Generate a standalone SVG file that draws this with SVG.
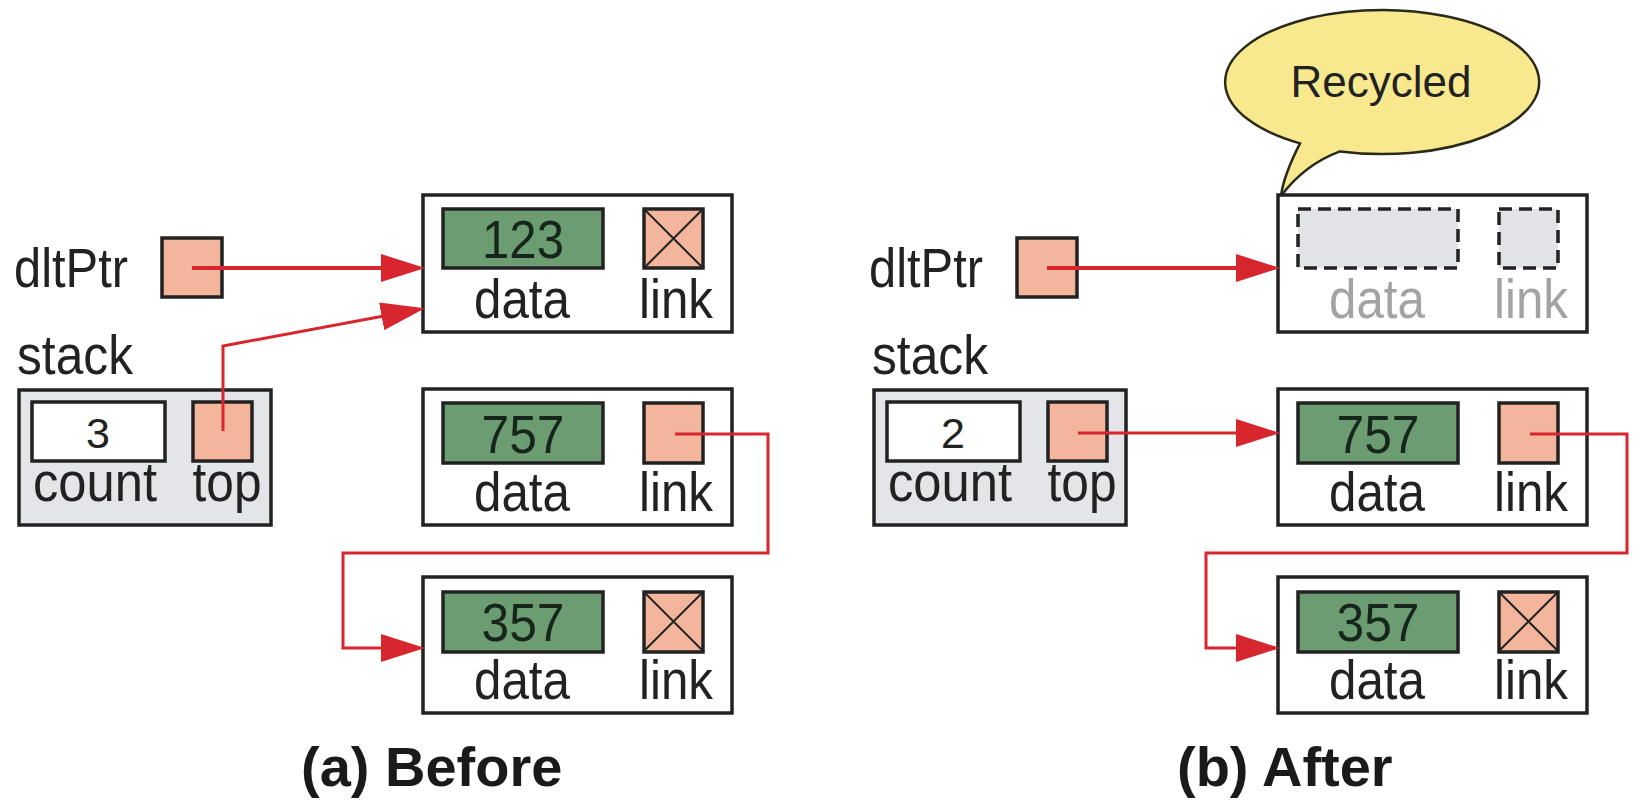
<svg xmlns="http://www.w3.org/2000/svg" width="1635" height="801" viewBox="0 0 1635 801">
  <style>
    .lbl { font-family: "Liberation Sans", Arial, sans-serif; font-size: 55px; fill: #222; }
    .num { font-family: "Liberation Sans", Arial, sans-serif; font-size: 53px; fill: #17261a; text-anchor: middle; }
    .cnt { font-family: "Liberation Sans", Arial, sans-serif; font-size: 43px; fill: #222; text-anchor: middle; }
    .mid { text-anchor: middle; }
    .ghost { fill: #a3a3a3; }
    .title { font-family: "Liberation Sans", Arial, sans-serif; font-size: 56px; font-weight: bold; fill: #1a1a1a; }
    .node { fill: #fff; stroke: #222; stroke-width: 3.5; }
    .stackbox { fill: #e4e5e9; stroke: #222; stroke-width: 3.5; }
    .data { fill: #6c9c71; stroke: #222; stroke-width: 3.5; }
    .ptr { fill: #f3b59b; stroke: #222; stroke-width: 3.5; }
    .white { fill: #fff; stroke: #222; stroke-width: 3.5; }
    .empty { fill: #e2e3e7; stroke: #222; stroke-width: 3.5; stroke-dasharray: 13 7; }
    .cross { stroke: #222; stroke-width: 2; fill: none; }
    .wire { fill: none; stroke: #d7262d; stroke-width: 3; marker-end: url(#arrow); }
    .wire.thick { stroke-width: 4; }
    .bubble { fill: #f8e98f; stroke: #2a2a1a; stroke-width: 2.5; }
  </style>
  <defs>
    <marker id="arrow" viewBox="0 0 44 28" refX="20" refY="14" markerWidth="44" markerHeight="28" markerUnits="userSpaceOnUse" orient="auto">
      <path d="M0,0 L44,14 L0,28 Z" fill="#d7262d"/>
    </marker>
    <g id="xmark">
      <line x1="0" y1="0" x2="59" y2="59" class="cross"/>
      <line x1="59" y1="0" x2="0" y2="59" class="cross"/>
    </g>
  </defs>

  <rect width="1635" height="801" fill="#fff"/>

  <!-- ===== (a) Before ===== -->
  <g id="a-dltPtr">
    <text class="lbl" x="14" y="287" textLength="114" lengthAdjust="spacingAndGlyphs">dltPtr</text>
    <rect class="ptr" x="162" y="238" width="60" height="59"/>
  </g>

  <g id="a-stack">
    <text class="lbl" x="17" y="374" textLength="116" lengthAdjust="spacingAndGlyphs">stack</text>
    <rect class="stackbox" x="19" y="390" width="252" height="135"/>
    <rect class="white" x="32" y="402" width="133" height="59"/>
    <text class="cnt" x="98" y="448">3</text>
    <rect class="ptr" x="193" y="402" width="59" height="59"/>
    <text class="lbl mid" x="95" y="501" textLength="124" lengthAdjust="spacingAndGlyphs">count</text>
    <text class="lbl mid" x="227" y="501" textLength="69" lengthAdjust="spacingAndGlyphs">top</text>
  </g>

  <g id="a-node123">
    <rect class="node" x="423" y="195" width="309" height="137"/>
    <rect class="data" x="443" y="209" width="160" height="59"/>
    <text class="num" x="523" y="258" textLength="82" lengthAdjust="spacingAndGlyphs">123</text>
    <rect class="ptr" x="644" y="209" width="59" height="59"/>
    <use href="#xmark" x="644" y="209"/>
    <text class="lbl mid" x="522" y="318" textLength="96" lengthAdjust="spacingAndGlyphs">data</text>
    <text class="lbl mid" x="676" y="318" textLength="74" lengthAdjust="spacingAndGlyphs">link</text>
  </g>

  <g id="a-node757">
    <rect class="node" x="423" y="389" width="309" height="136"/>
    <rect class="data" x="443" y="403" width="160" height="60"/>
    <text class="num" x="523" y="453" textLength="83" lengthAdjust="spacingAndGlyphs">757</text>
    <rect class="ptr" x="644" y="403" width="59" height="60"/>
    <text class="lbl mid" x="522" y="511" textLength="96" lengthAdjust="spacingAndGlyphs">data</text>
    <text class="lbl mid" x="676" y="511" textLength="74" lengthAdjust="spacingAndGlyphs">link</text>
  </g>

  <g id="a-node357">
    <rect class="node" x="423" y="577" width="309" height="136"/>
    <rect class="data" x="443" y="592" width="160" height="60"/>
    <text class="num" x="523" y="641" textLength="83" lengthAdjust="spacingAndGlyphs">357</text>
    <rect class="ptr" x="644" y="592" width="59" height="60"/>
    <use href="#xmark" x="644" y="592"/>
    <text class="lbl mid" x="522" y="699" textLength="96" lengthAdjust="spacingAndGlyphs">data</text>
    <text class="lbl mid" x="676" y="699" textLength="74" lengthAdjust="spacingAndGlyphs">link</text>
  </g>

  <text class="title" x="301" y="786">(a) Before</text>

  <!-- ===== (b) After ===== -->
  <g id="b-bubble">
    <path class="bubble" d="M1340,151.4 A157,72 0 1 0 1300,143.4 C1290,163 1283,180 1281,196 C1296,176 1314,161 1340,151.4 Z"/>
    <text class="lbl mid" x="1381" y="97" style="font-size:44px">Recycled</text>
  </g>

  <g id="b-dltPtr">
    <text class="lbl" x="869" y="287" textLength="114" lengthAdjust="spacingAndGlyphs">dltPtr</text>
    <rect class="ptr" x="1017" y="238" width="60" height="59"/>
  </g>

  <g id="b-recycled">
    <rect class="node" x="1278" y="195" width="309" height="137"/>
    <rect class="empty" x="1298" y="209" width="160" height="59"/>
    <rect class="empty" x="1499" y="209" width="59" height="59"/>
    <text class="lbl mid ghost" x="1377" y="318" textLength="96" lengthAdjust="spacingAndGlyphs">data</text>
    <text class="lbl mid ghost" x="1531" y="318" textLength="74" lengthAdjust="spacingAndGlyphs">link</text>
  </g>

  <g id="b-stack">
    <text class="lbl" x="872" y="374" textLength="116" lengthAdjust="spacingAndGlyphs">stack</text>
    <rect class="stackbox" x="874" y="390" width="252" height="135"/>
    <rect class="white" x="887" y="402" width="133" height="59"/>
    <text class="cnt" x="953" y="448">2</text>
    <rect class="ptr" x="1048" y="402" width="59" height="59"/>
    <text class="lbl mid" x="950" y="501" textLength="124" lengthAdjust="spacingAndGlyphs">count</text>
    <text class="lbl mid" x="1082" y="501" textLength="69" lengthAdjust="spacingAndGlyphs">top</text>
  </g>

  <g id="b-node757">
    <rect class="node" x="1278" y="389" width="309" height="136"/>
    <rect class="data" x="1298" y="403" width="160" height="60"/>
    <text class="num" x="1378" y="453" textLength="83" lengthAdjust="spacingAndGlyphs">757</text>
    <rect class="ptr" x="1499" y="403" width="59" height="60"/>
    <text class="lbl mid" x="1377" y="511" textLength="96" lengthAdjust="spacingAndGlyphs">data</text>
    <text class="lbl mid" x="1531" y="511" textLength="74" lengthAdjust="spacingAndGlyphs">link</text>
  </g>

  <g id="b-node357">
    <rect class="node" x="1278" y="577" width="309" height="136"/>
    <rect class="data" x="1298" y="592" width="160" height="60"/>
    <text class="num" x="1378" y="641" textLength="83" lengthAdjust="spacingAndGlyphs">357</text>
    <rect class="ptr" x="1499" y="592" width="59" height="60"/>
    <use href="#xmark" x="1499" y="592"/>
    <text class="lbl mid" x="1377" y="699" textLength="96" lengthAdjust="spacingAndGlyphs">data</text>
    <text class="lbl mid" x="1531" y="699" textLength="74" lengthAdjust="spacingAndGlyphs">link</text>
  </g>

  <text class="title" x="1177" y="786">(b) After</text>

  <!-- ===== pointer connectors ===== -->
  <g id="connectors">
    <path class="wire thick" d="M192,268 H401"/>
    <path class="wire" d="M223,431 V346 L401.3,312.7"/>
    <path class="wire" d="M675,434 H768 V553 H343 V648 H401"/>
    <path class="wire thick" d="M1047,268 H1256"/>
    <path class="wire" d="M1078,433 H1256"/>
    <path class="wire" d="M1530,434 H1627 V553 H1206 V648 H1256"/>
  </g>
</svg>
